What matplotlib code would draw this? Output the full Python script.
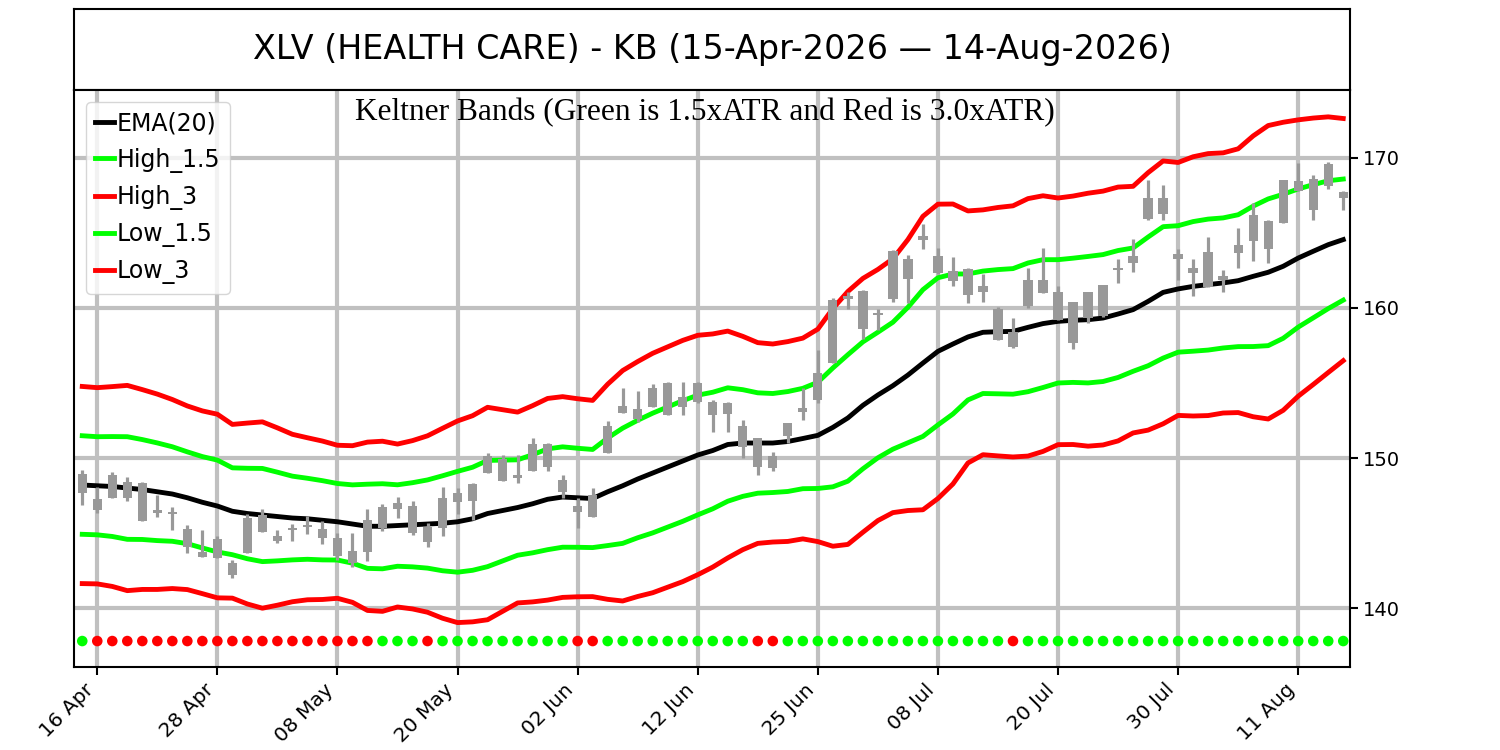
import matplotlib
matplotlib.use("Agg")
import matplotlib.pyplot as plt
import numpy as np
import pandas as pd

# ---------------- data ----------------
start_date = "2026-04-15"
end_date = "2026-08-14"
holidays = ["2026-05-25", "2026-06-19", "2026-07-03"]

highs = [149.2, 148.09, 149.09, 148.76, 148.42, 147.53, 146.76, 145.53, 145.2, 144.8,
         143.2, 146.27, 146.58, 145.2, 145.6, 146.13, 145.82, 144.98, 145.02, 146.58,
         146.93, 147.42, 147.16, 145.69, 148.04, 147.98, 148.31, 150.31, 150.2, 150.2,
         151.31, 151.02, 148.87, 147.31, 147.98, 152.49, 154.64, 154.49, 154.93, 155.09,
         155.09, 155.09, 153.87, 153.76, 152.53, 151.31, 150.4, 152.36, 154.64, 157.2,
         160.65, 161.05, 161.2, 159.92, 163.88, 163.5, 165.62, 164.0, 163.4, 162.67,
         162.29, 160.07, 159.33, 162.67, 164.0, 161.49, 160.38, 161.04, 161.56, 163.27,
         164.6, 168.56, 168.22, 163.93, 163.27, 164.73, 162.51, 165.33, 167.0, 165.84,
         168.56, 169.67, 168.89, 169.71, 167.78]
lows = [146.87, 146.31, 147.31, 147.16, 145.82, 146.09, 145.2, 143.67, 143.38, 143.31,
        141.98, 143.64, 145.09, 144.31, 144.49, 144.93, 144.27, 143.2, 142.71, 143.16,
        145.16, 145.98, 144.87, 144.04, 144.8, 146.27, 145.87, 149.02, 148.49, 148.31,
        149.16, 149.16, 147.31, 145.31, 146.09, 150.31, 152.98, 152.42, 153.38, 152.87,
        152.87, 153.64, 151.76, 151.76, 150.0, 148.87, 149.16, 151.02, 152.53, 153.64,
        156.3, 159.9, 157.95, 158.55, 160.43, 160.3, 163.93, 162.29, 161.44, 160.33,
        160.38, 157.84, 157.33, 160.0, 161.0, 159.22, 157.27, 159.0, 159.4, 161.67,
        162.38, 165.89, 165.84, 161.89, 160.78, 161.4, 161.04, 162.67, 163.11, 163.0,
        165.67, 167.78, 165.89, 167.93, 166.56]
opens = [148.93, 147.24, 147.31, 148.42, 148.31, 146.53, 146.42, 145.24, 143.76, 143.31,
         142.98, 143.64, 146.2, 144.8, 145.2, 145.38, 145.24, 144.64, 143.82, 143.76,
         145.31, 146.58, 146.8, 145.42, 145.31, 147.09, 147.16, 149.02, 149.91, 148.87,
         149.16, 150.93, 148.53, 146.8, 146.09, 150.31, 152.98, 153.24, 153.38, 152.87,
         154.09, 153.76, 153.76, 153.69, 152.13, 151.31, 149.31, 151.45, 153.09, 153.87,
         156.3, 160.62, 161.1, 159.52, 160.59, 163.28, 164.51, 163.49, 162.44, 160.89,
         161.04, 159.93, 157.4, 160.16, 161.0, 161.04, 160.38, 159.33, 159.49, 162.51,
         163.0, 165.93, 167.33, 163.62, 162.67, 161.4, 161.84, 163.67, 164.44, 165.78,
         165.67, 167.78, 168.6, 168.11, 167.71]
closes = [147.69, 146.53, 148.87, 147.31, 145.82, 146.31, 146.27, 144.09, 143.38, 144.58,
          142.2, 145.98, 145.09, 144.49, 145.31, 145.53, 144.64, 143.47, 143.02, 145.87,
          146.76, 147.02, 145.02, 144.42, 147.31, 147.64, 148.24, 150.13, 148.49, 148.64,
          150.93, 149.42, 147.76, 146.42, 147.53, 152.13, 153.47, 152.58, 154.64, 155.02,
          153.38, 154.98, 152.87, 152.93, 150.76, 149.38, 150.13, 152.31, 153.36, 155.64,
          160.5, 160.8, 158.62, 159.68, 163.8, 161.95, 164.82, 162.33, 161.78, 162.6,
          161.49, 157.89, 158.38, 161.89, 161.89, 159.22, 157.67, 161.04, 161.56, 162.67,
          163.49, 167.33, 166.29, 163.27, 162.33, 163.71, 162.16, 164.22, 166.22, 163.93,
          168.56, 168.44, 166.51, 169.62, 167.33]

ema20 = [148.2, 148.15, 148.1, 148.0, 147.9, 147.75, 147.6, 147.35, 147.05, 146.8,
         146.45, 146.3, 146.2, 146.1, 146.0, 145.95, 145.85, 145.75, 145.6, 145.45,
         145.45, 145.5, 145.55, 145.6, 145.65, 145.75, 145.95, 146.3, 146.5, 146.7,
         146.95, 147.25, 147.4, 147.35, 147.3, 147.75, 148.15, 148.6, 149.0, 149.4,
         149.8, 150.2, 150.5, 150.9, 151.0, 151.0, 151.0, 151.1, 151.3, 151.51,
         152.04, 152.67, 153.51, 154.2, 154.82, 155.53, 156.33, 157.11, 157.6, 158.07,
         158.38, 158.42, 158.44, 158.71, 158.96, 159.11, 159.18, 159.22, 159.33, 159.6,
         159.89, 160.44, 161.04, 161.27, 161.44, 161.56, 161.67, 161.82, 162.11, 162.38,
         162.78, 163.33, 163.78, 164.22, 164.56]
atr = [2.19, 2.18, 2.22, 2.28, 2.22, 2.17, 2.10, 2.04, 2.03, 2.04,
       1.93, 2.01, 2.07, 1.97, 1.86, 1.80, 1.76, 1.70, 1.74, 1.87,
       1.89, 1.81, 1.87, 1.96, 2.11, 2.24, 2.29, 2.36, 2.24, 2.12,
       2.18, 2.24, 2.23, 2.20, 2.18, 2.39, 2.56, 2.61, 2.66, 2.67,
       2.68, 2.66, 2.59, 2.52, 2.37, 2.23, 2.20, 2.22, 2.23, 2.36,
       2.64, 2.81, 2.82, 2.79, 2.82, 3.01, 3.26, 3.27, 3.11, 2.80,
       2.72, 2.76, 2.79, 2.86, 2.84, 2.74, 2.76, 2.81, 2.82, 2.82,
       2.74, 2.86, 2.92, 2.81, 2.88, 2.91, 2.89, 2.93, 3.12, 3.26,
       3.20, 3.07, 2.96, 2.84, 2.69]

# signal dots: 1 = red, 0 = green
signal_red = [0, 1, 1, 1, 1, 1, 1, 1, 1, 1, 1, 1, 1, 1, 1, 1, 1, 1, 1, 1,
              0, 0, 0, 1, 0, 0, 0, 0, 0, 0, 0, 0, 0, 1, 1, 0, 0, 0, 0, 0,
              0, 0, 0, 0, 0, 1, 1, 0, 0, 0, 0, 0, 0, 0, 0, 0, 0, 0, 0, 0,
              0, 0, 1, 0, 0, 0, 0, 0, 0, 0, 0, 0, 0, 0, 0, 0, 0, 0, 0, 0,
              0, 0, 0, 0, 0]

title_text = "XLV (HEALTH CARE) - KB (15-Apr-2026 \u2014 14-Aug-2026)"
subtitle_text = "Keltner Bands (Green is 1.5xATR and Red is 3.0xATR)"
yticks = [140, 150, 160, 170]

# ---------------- derived ----------------
dates = pd.bdate_range(start_date, end_date)
dates = dates[~dates.isin(pd.to_datetime(holidays))]
n = len(dates)
x = np.arange(n)
ema = np.array(ema20)
a = np.array(atr)
high15 = ema + 1.5 * a
high3 = ema + 3.0 * a
low15 = ema - 1.5 * a
low3 = ema - 3.0 * a

o = np.array(opens); c = np.array(closes)
body_lo = np.minimum(o, c)
body_h = np.maximum(np.abs(c - o), 0.12)

# ---------------- figure ----------------
fig = plt.figure(figsize=(15, 7.5), dpi=100)
L, R = 74 / 1500, 1350 / 1500
tax = fig.add_axes([L, 1 - 90 / 750, R - L, 81 / 750])
tax.set_xticks([]); tax.set_yticks([])
tax.text(0.5, 0.5, title_text, ha="center", va="center", fontsize=24,
         transform=tax.transAxes)
for s in tax.spines.values():
    s.set_linewidth(1.5)

ax = fig.add_axes([L, 1 - 667 / 750, R - L, (667 - 90) / 750])

ax.plot(x, ema, color="black", lw=3.5, label="EMA(20)", zorder=2)
ax.plot(x, high15, color="#00ff00", lw=3.5, label="High_1.5", zorder=2)
ax.plot(x, high3, color="#ff0000", lw=3.5, label="High_3", zorder=2)
ax.plot(x, low15, color="#00ff00", lw=3.5, label="Low_1.5", zorder=2)
ax.plot(x, low3, color="#ff0000", lw=3.5, label="Low_3", zorder=2)

# candles
ax.vlines(x, lows, highs, color="#999999", linewidth=2.3, zorder=3)
ax.bar(x, body_h, bottom=body_lo, width=0.62, color="#999999", zorder=3)

# signal dots
dot_colors = ["#ff0000" if r else "#00ff00" for r in signal_red]
ax.scatter(x, np.full(n, 137.8), c=dot_colors, s=58, zorder=4, linewidths=0)

ax.set_xlim(-0.55, n - 0.55)
ax.set_ylim(136.07, 174.53)

tick_pos = x[1::8]
tick_lab = [dates[i].strftime("%d %b") for i in tick_pos]
ax.set_xticks(tick_pos)
ax.set_xticklabels(tick_lab, rotation=45, ha="right", fontsize=14.5)
ax.yaxis.tick_right()
ax.set_yticks(yticks)
ax.tick_params(axis="y", labelsize=14, length=6, width=1.5)
ax.tick_params(axis="x", length=6, width=1.5)
for s in ax.spines.values():
    s.set_linewidth(1.5)
ax.grid(True, color="#c0c0c0", linewidth=3)
ax.set_axisbelow(True)

ax.text(0.4945, 0.987, subtitle_text, ha="center", va="top", fontsize=22.6,
        family="Liberation Serif", transform=ax.transAxes)

leg = ax.legend(loc="upper left", fontsize=17, handlelength=0.8,
                handletextpad=0.1, labelspacing=0.52, borderpad=0.4,
                bbox_to_anchor=(0.0, 1.0))

fig.savefig("out.png", dpi=100)
